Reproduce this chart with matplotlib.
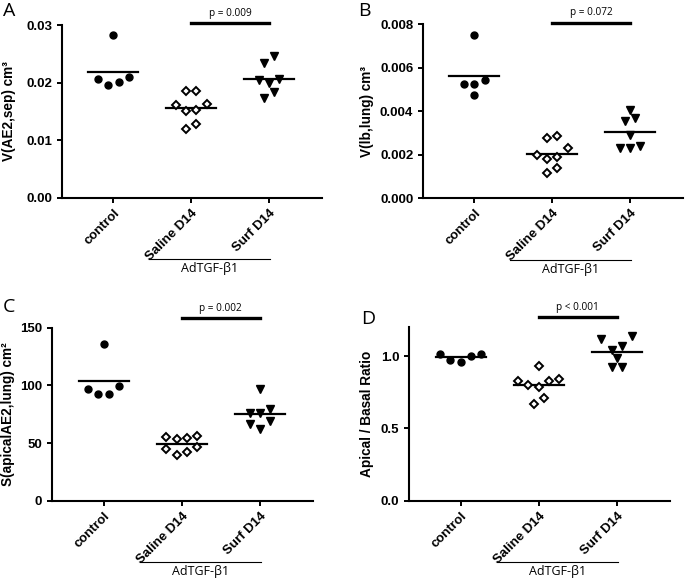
import matplotlib
matplotlib.use("Agg")
import matplotlib.pyplot as plt
import numpy as np

groups = ["control", "Saline D14", "Surf D14"]
bracket_label = "AdTGF-\u03b21"

# panel A - V(AE2,sep)
a_control = [0.0282, 0.0207, 0.0196, 0.0201, 0.0210]
a_saline = [0.0186, 0.0186, 0.0163, 0.0153, 0.0151, 0.0162, 0.0119, 0.0129]
a_surf = [0.0246, 0.0234, 0.0205, 0.0199, 0.0207, 0.0173, 0.0184]

# panel B - V(lb,lung)
b_control = [0.00751, 0.00524, 0.00524, 0.00543, 0.00474]
b_saline = [0.00279, 0.00288, 0.00231, 0.00191, 0.00181, 0.00201, 0.00118, 0.00138]
b_surf = [0.00406, 0.00371, 0.00355, 0.00291, 0.00242, 0.00233, 0.00233]

# panel C - S(apicalAE2,lung)
c_control = [136.1, 96.8, 92.2, 92.2, 99.7]
c_saline = [56.1, 54.1, 53.2, 55.5, 44.5, 39.9, 41.9, 46.2]
c_surf = [97.1, 76.3, 75.7, 79.8, 69.1, 62.4, 66.2]

# panel D - apical / basal ratio
d_control = [1.016, 1.0, 0.963, 0.972, 1.016]
d_saline = [0.935, 0.831, 0.804, 0.79, 0.829, 0.84, 0.667, 0.709]
d_surf = [1.139, 1.12, 1.074, 1.044, 0.986, 0.924, 0.924]

p_labels = ["p = 0.009", "p = 0.072", "p = 0.002", "p < 0.001"]
y_labels = ["V(AE2,sep) cm\u00b3", "V(lb,lung) cm\u00b3",
            "S(apicalAE2,lung) cm\u00b2", "Apical / Basal Ratio"]
panel_letters = ["A", "B", "C", "D"]

BOLD = "Liberation Sans"
THIN = "Open Sans"


def swarm_offsets(values, px_per_y, px_per_x, gap_px=7.3, step_px=10.3):
    # graphpad-ish layout: cluster close values, spread each cluster symmetrically
    vals = np.asarray(values, dtype=float)
    order = np.argsort(vals, kind="stable")
    clusters = [[order[0]]]
    for prev, cur in zip(order[:-1], order[1:]):
        if (vals[cur] - vals[prev]) * px_per_y < gap_px:
            clusters[-1].append(cur)
        else:
            clusters.append([cur])
    offsets = np.zeros(len(vals))
    step = step_px / px_per_x
    for cl in clusters:
        n = len(cl)
        slots = np.arange(n) - (n - 1) / 2.0
        # centre-out, left first
        slots = sorted(slots, key=lambda s: (abs(s), s))
        for idx, s in zip(cl, slots):
            offsets[idx] = s * step
    return offsets


def draw_panel(ax, data, ylim, yticks, fmt, ylabel, label_x, p_text, p_y, letter, letter_xy):
    ax.set_xlim(-0.66, 2.68)
    ax.set_ylim(*ylim)
    fig = ax.figure
    bbox = ax.get_window_extent()
    px_per_y = bbox.height / (ylim[1] - ylim[0])
    px_per_x = bbox.width / (2.68 + 0.66)

    styles = [
        dict(marker="o", ms=5.0, mfc="black", mec="black"),
        dict(marker="D", ms=4.0, mfc="white", mec="black", mew=1.4),
        dict(marker="v", ms=5.4, mfc="black", mec="black"),
    ]
    for i, vals in enumerate(data):
        offs = swarm_offsets(vals, px_per_y, px_per_x)
        ax.plot(i + offs, vals, linestyle="none", clip_on=False, zorder=3, **styles[i])
        m = np.mean(vals)
        ax.plot([i - 0.32, i + 0.32], [m, m], color="black", lw=1.6, zorder=2)

    ax.set_yticks(yticks)
    ax.set_yticklabels([fmt.format(t) for t in yticks], fontfamily=BOLD,
                       fontweight="bold", fontsize=9.5)
    ax.set_xticks(range(len(groups)))
    ax.set_xticklabels(groups, rotation=45, ha="right", rotation_mode="anchor",
                       fontfamily=BOLD, fontweight="bold", fontsize=9.5)
    ax.tick_params(axis="both", direction="out", length=3.5, width=1.4, color="black")
    ax.tick_params(axis="x", pad=3)
    ax.set_ylabel(ylabel, fontfamily=BOLD, fontweight="bold", fontsize=9.8)
    ax.yaxis.set_label_coords(label_x, 0.5)

    for side in ["top", "right"]:
        ax.spines[side].set_visible(False)
    for side in ["left", "bottom"]:
        ax.spines[side].set_linewidth(1.5)

    # significance bar between Saline and Surf
    ax.plot([1.0, 2.0], [p_y, p_y], color="black", lw=2.4, clip_on=False)
    ax.annotate(p_text, xy=(1.5, p_y), xytext=(0, 3), textcoords="offset points",
                ha="center", va="bottom", fontfamily=THIN, fontsize=7.2,
                annotation_clip=False)

    # AdTGF-b1 bracket under the treated groups
    trans = ax.get_xaxis_transform()
    ax.plot([0.46, 2.01], [-0.353, -0.353], color="black", lw=0.8,
            transform=trans, clip_on=False)
    ax.text(1.235, -0.37, bracket_label, transform=trans, ha="center", va="top",
            fontfamily=THIN, fontsize=9)

    fig.text(letter_xy[0], letter_xy[1], letter, fontfamily=THIN, fontsize=14,
             ha="left", va="top")


fig = plt.figure(figsize=(6.85, 5.79), dpi=100)
W, H = 685.0, 579.0


def axes_px(left, right, top, bottom):
    return fig.add_axes([left / W, 1 - bottom / H, (right - left) / W, (bottom - top) / H])


ax_a = axes_px(62, 322, 25, 198)
ax_b = axes_px(423, 683, 24.3, 198.3)
ax_c = axes_px(52, 313, 327.7, 500.7)
ax_d = axes_px(409, 670, 327.3, 500.7)

draw_panel(ax_a, [a_control, a_saline, a_surf], (0, 0.03), [0, 0.01, 0.02, 0.03],
           "{:.2f}", y_labels[0], -0.178, p_labels[0], 0.0303,
           panel_letters[0], (3 / W, 1 - 1.5 / H))
draw_panel(ax_b, [b_control, b_saline, b_surf], (0, 0.008),
           [0, 0.002, 0.004, 0.006, 0.008], "{:.3f}", y_labels[1], -0.19,
           p_labels[1], 0.00808, panel_letters[1], (358 / W, 1 - 1.5 / H))
draw_panel(ax_c, [c_control, c_saline, c_surf], (0, 150), [0, 50, 100, 150],
           "{:.0f}", y_labels[2], -0.14, p_labels[2], 158,
           panel_letters[2], (3 / W, 1 - 298 / H))
draw_panel(ax_d, [d_control, d_saline, d_surf], (0, 1.2), [0, 0.5, 1.0],
           "{:.1f}", y_labels[3], -0.136, p_labels[3], 1.268,
           panel_letters[3], (361 / W, 1 - 310 / H))

fig.savefig("out.png", dpi=100)
